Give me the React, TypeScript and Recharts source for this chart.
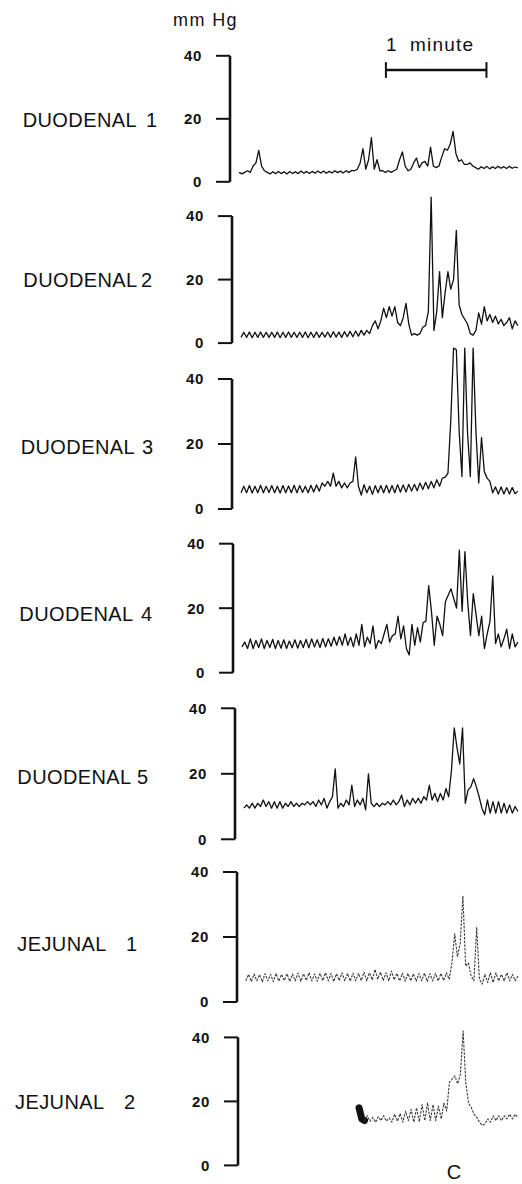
import React from 'react';
import { LineChart, Line, XAxis, YAxis, ReferenceLine } from 'recharts';

// one sample every 1.68 s, pressure in mm Hg
const DT = 1.68;

const duodenal1 = [
  3, 2.5, 3, 3.5, 3, 5, 6, 10, 5, 3.5,
  3, 2.5, 3.2, 2.6, 3.3, 2.6, 3.2, 2.5, 3.3, 2.6,
  3.2, 2.6, 3.4, 2.7, 3.3, 2.6, 3.3, 2.7, 3.4, 2.8,
  3.4, 2.7, 3.3, 2.8, 3.5, 2.9, 3.4, 2.8, 3.5, 3,
  3.6, 3.5, 4, 6, 10.5, 4, 7, 14, 4, 7,
  3.5, 3.5, 3, 3.5, 3, 3.5, 4, 7, 9.5, 5,
  3.5, 4, 6, 7.5, 4.5, 6, 6.5, 5, 11, 5,
  4.5, 5, 8, 10.5, 10, 12, 16, 9, 6.5, 7,
  5.5, 5.5, 6, 5, 4.5, 4, 4.8, 4.2, 4.9, 4.1,
  4.8, 4.2, 4.9, 4.3, 4.8, 4.2, 4.9, 4.3, 4.7, 4.4,
];

const duodenal2 = [
  1.8, 3.4, 1.8, 3.5, 1.7, 3.4, 1.8, 3.5, 1.8, 3.4,
  1.8, 3.4, 1.8, 3.5, 1.7, 3.4, 1.8, 3.5, 1.8, 3.4,
  1.8, 3.4, 1.8, 3.5, 1.7, 3.4, 1.8, 3.5, 1.8, 3.4,
  1.9, 3.5, 1.8, 3.6, 1.9, 3.5, 1.8, 3.6, 2, 3.7,
  2, 3.8, 2.2, 4, 2.5, 4, 3, 5.5, 7, 4.5,
  7, 11, 8, 11.5, 8.5, 11.5, 6.5, 5.5, 8, 12.5,
  6, 2.5, 3, 2.5, 3, 5, 5.5, 10, 46, 4,
  10, 22.5, 8, 16, 22.5, 17, 20, 35.5, 12, 9,
  7.5, 6, 3, 2.5, 4, 9.5, 6, 11.5, 7, 9,
  6.5, 8.5, 6, 7.5, 5.5, 6.5, 8, 4.5, 7, 5.5,
];

const duodenal3 = [
  5, 7, 5, 7.2, 4.9, 7, 5, 7.3, 5, 7,
  5.1, 7.2, 5, 7, 4.9, 7.2, 5, 7.1, 5, 7.3,
  5, 7.2, 5.1, 7, 5, 7.3, 5.2, 7.4, 5.5, 8,
  7, 8.5, 7, 11, 7, 8.5, 6.5, 8, 6.5, 8,
  8.5, 16, 7, 4.3, 7.5, 5, 7, 4.5, 7.2, 5,
  7.2, 5, 7.3, 5, 7.2, 5, 7.5, 5.2, 7.4, 5.2,
  7.6, 5.5, 7.6, 5.6, 8, 6, 8.2, 6.2, 8.5, 6.5,
  9, 7, 9.5, 9.8, 11, 27, 49.5, 49, 24, 10,
  49.5, 23.5, 10, 49.5, 24, 8, 22, 11.5, 9.5, 8.5,
  5, 6.8, 4.6, 6.8, 4.6, 6.6, 4.6, 6.6, 4.7, 5.5,
];

const duodenal4 = [
  8, 9.5, 7.5, 10.5, 7.5, 10, 7.8, 10.5, 7.5, 10,
  7.8, 10.3, 7.5, 10, 7.6, 10.2, 7.5, 9.8, 7.7, 10.2,
  7.6, 10, 7.8, 10.3, 7.7, 10.5, 8, 10.2, 7.8, 10.6,
  8, 10.5, 8.2, 11, 8.5, 11.2, 8.5, 12, 8.5, 11,
  8, 12, 8.5, 15, 8, 11, 9, 14.5, 7.5, 10,
  9, 12, 15, 9.5, 11.5, 12, 17.5, 10.5, 14.5, 7.5,
  5.5, 15, 8.5, 14, 9.5, 15.5, 16, 27, 19, 8.5,
  17.5, 15, 11.5, 22, 24, 26, 23, 20, 38, 19,
  37.5, 22, 11.5, 24.5, 18, 11.5, 17.5, 7.5, 12, 16,
  30, 9, 12, 8, 10.5, 13.5, 7.5, 12, 8, 9.5,
];

const duodenal5 = [
  9.5, 10.5, 9.5, 11, 9.5, 11, 10, 12, 10, 11.5,
  9.5, 11.5, 9.5, 11.5, 9.5, 11, 10, 11.5, 10, 11,
  10, 11, 10.5, 11.5, 10.5, 11.5, 10, 12, 10.5, 12.5,
  9.5, 11.5, 13, 21.5, 9.5, 11, 10, 12, 10.5, 16.5,
  10, 12, 10.5, 12.5, 9, 20, 11, 10, 11, 10,
  11, 10.5, 11.5, 10.5, 12, 10.5, 11.5, 13.5, 10, 12,
  10.5, 12.5, 11, 12.5, 11, 13, 12, 16.5, 12, 14,
  11.5, 14, 12, 15.5, 13, 21, 34, 28, 23, 34,
  11, 15, 16, 18.5, 16, 13, 9.5, 7.5, 12, 8,
  11.5, 8, 11.5, 8, 11, 8, 10.5, 8, 10, 8.5,
];

const jejunal1 = [
  6.5, 8.5, 6.3, 8.6, 6.5, 8.4, 6.2, 8.7, 6.5, 8.5,
  6.3, 8.8, 6.4, 8.5, 6.6, 8.7, 6.3, 8.6, 6.5, 8.9,
  6.4, 8.7, 6.6, 9, 6.5, 8.6, 6.4, 8.8, 6.6, 9,
  6.5, 8.8, 6.3, 8.7, 6.6, 9, 6.5, 8.8, 6.4, 8.9,
  6.5, 8.8, 6.6, 9.2, 6.5, 9, 6.8, 10, 7, 9.2,
  6.6, 9, 6.5, 9.5, 6.8, 8.8, 6.5, 8.9, 6.4, 8.8,
  6.5, 8.7, 6.4, 8.8, 6.5, 8.9, 6.3, 8.7, 6.5, 8.8,
  6.5, 8.8, 6.6, 9, 7, 12, 21, 14, 18, 32.5,
  11, 12, 8, 6.5, 23, 7, 5.5, 8.5, 6, 9,
  6, 9, 6.5, 8.5, 6.5, 9, 6.5, 8.5, 6.5, 8,
];

// jejunal 2 recording begins part way through the record
const JEJUNAL2_START = 43;
const jejunal2 = [
  14, 15.5, 13.8, 15, 13.5, 15.2, 14,
  15.5, 13.8, 14.8, 13.5, 16, 13.8, 16.2, 13.5, 17, 14,
  17.5, 13.5, 18, 13.6, 19, 14, 19.5, 14, 19, 14,
  18.5, 14.5, 19.5, 17, 26, 27, 28, 25.5, 28.5, 42,
  25.5, 19.5, 18, 16, 15, 13.5, 12.5, 13, 14.5, 13.5,
  15.5, 14, 15.5, 14, 15.5, 14.5, 16, 14.5, 16, 15,
];
// the ink blot where the jejunal 2 trace starts
const BURST_START = 41;
const jejunal2Burst = [18, 14.5, 14];

const rows = duodenal1.map((v, i) => ({
  t: +(i * DT).toFixed(2),
  d1: v,
  d2: duodenal2[i],
  d3: duodenal3[i],
  d4: duodenal4[i],
  d5: duodenal5[i],
  j1: jejunal1[i],
  j2: i >= JEJUNAL2_START ? jejunal2[i - JEJUNAL2_START] : null,
  j2b: i >= BURST_START && i < BURST_START + jejunal2Burst.length ? jejunal2Burst[i - BURST_START] : null,
}));

const T_MIN = -5.4;
const T_MAX = 167;
const Y_MAX = 52;
const AXIS_W = 232;
const SCALE_START = 87.6;
const ONE_MINUTE = 60;
const FONT = '"Liberation Sans", Arial, Helvetica, sans-serif';
const INK = '#111';

const panels = [
  { key: 'd1', name: 'DUODENAL', num: '1', y40: 56, y0: 182, axisX: 230, nameX: 22.7, numX: 146, base: 126.7, faint: false },
  { key: 'd2', name: 'DUODENAL', num: '2', y40: 216, y0: 343, axisX: 232, nameX: 23.3, numX: 141, base: 287, faint: false },
  { key: 'd3', name: 'DUODENAL', num: '3', y40: 379, y0: 509, axisX: 232, nameX: 20.7, numX: 142, base: 454, faint: false },
  { key: 'd4', name: 'DUODENAL', num: '4', y40: 544, y0: 673, axisX: 233, nameX: 19.3, numX: 141, base: 621, faint: false },
  { key: 'd5', name: 'DUODENAL', num: '5', y40: 708, y0: 839, axisX: 235, nameX: 17.3, numX: 137, base: 784, faint: false },
  { key: 'j1', name: 'JEJUNAL', num: '1', y40: 872, y0: 1002, axisX: 237, nameX: 17.3, numX: 126, base: 950.5, faint: true },
  { key: 'j2', name: 'JEJUNAL', num: '2', y40: 1037, y0: 1165, axisX: 238, nameX: 15, numX: 124, base: 1109, faint: true },
];

const Trace = ({ p }: { p: typeof panels[number] }) => {
  const plotH = ((p.y0 - p.y40) * Y_MAX) / 40;
  const left = p.axisX - AXIS_W;
  return (
    <div style={{ position: 'absolute', left, top: p.y0 - plotH }}>
      <LineChart width={522 - left} height={plotH + 14} data={rows} margin={{ top: 0, right: 3, bottom: 14, left: 0 }}>
        <XAxis dataKey="t" type="number" domain={[T_MIN, T_MAX]} hide />
        <YAxis
          type="number"
          domain={[0, Y_MAX]}
          ticks={[0, 20, 40]}
          interval={0}
          width={AXIS_W}
          axisLine={false}
          tickSize={14}
          tickMargin={14}
          tickLine={{ stroke: INK, strokeWidth: 2 }}
          tick={{ fill: INK, fontSize: 15, fontWeight: 700, fontFamily: FONT, letterSpacing: 0.6 }}
        />
        <ReferenceLine segment={[{ x: T_MIN, y: 0 }, { x: T_MIN, y: 40 }]} stroke={INK} strokeWidth={2.6} ifOverflow="visible" />
        {p.key === 'd1' && (
          <>
            <ReferenceLine segment={[{ x: SCALE_START, y: 35.5 }, { x: SCALE_START + ONE_MINUTE, y: 35.5 }]} stroke={INK} strokeWidth={2.4} ifOverflow="visible" />
            <ReferenceLine segment={[{ x: SCALE_START, y: 33 }, { x: SCALE_START, y: 38 }]} stroke={INK} strokeWidth={2} ifOverflow="visible" />
            <ReferenceLine segment={[{ x: SCALE_START + ONE_MINUTE, y: 33 }, { x: SCALE_START + ONE_MINUTE, y: 38 }]} stroke={INK} strokeWidth={2} ifOverflow="visible" />
          </>
        )}
        {p.key === 'j2' && (
          <Line dataKey="j2b" stroke={INK} strokeWidth={7} strokeLinecap="round" strokeLinejoin="round" dot={false} isAnimationActive={false} />
        )}
        <Line
          dataKey={p.key}
          type="linear"
          stroke={p.faint ? '#3a3a3a' : INK}
          strokeWidth={p.faint ? 1.1 : 1.3}
          strokeDasharray={p.faint ? '2.5 1.2' : undefined}
          strokeLinejoin="round"
          dot={false}
          activeDot={false}
          isAnimationActive={false}
        />
      </LineChart>
    </div>
  );
};

export default function App() {
  return (
    <div style={{ position: 'absolute', left: 0, top: 0, width: 522, height: 1184, background: '#fff', overflow: 'hidden' }}>
      {panels.map((p) => (
        <Trace key={p.key} p={p} />
      ))}
      <svg width={522} height={1184} style={{ position: 'absolute', left: 0, top: 0, pointerEvents: 'none' }}>
        <g fontFamily={FONT} fill={INK}>
          <text x={173} y={26} fontSize={18} letterSpacing={1.4}>mm Hg</text>
          <text x={386} y={51} fontSize={19}>1</text>
          <text x={410} y={51} fontSize={19} letterSpacing={1.2}>minute</text>
          {panels.map((p) => (
            <g key={p.key}>
              <text x={p.nameX} y={p.base} fontSize={20} letterSpacing={0.4}>{p.name}</text>
              <text x={p.numX} y={p.base} fontSize={20}>{p.num}</text>
            </g>
          ))}
          <text x={454} y={1179} fontSize={20} textAnchor="middle">C</text>
        </g>
      </svg>
    </div>
  );
}
